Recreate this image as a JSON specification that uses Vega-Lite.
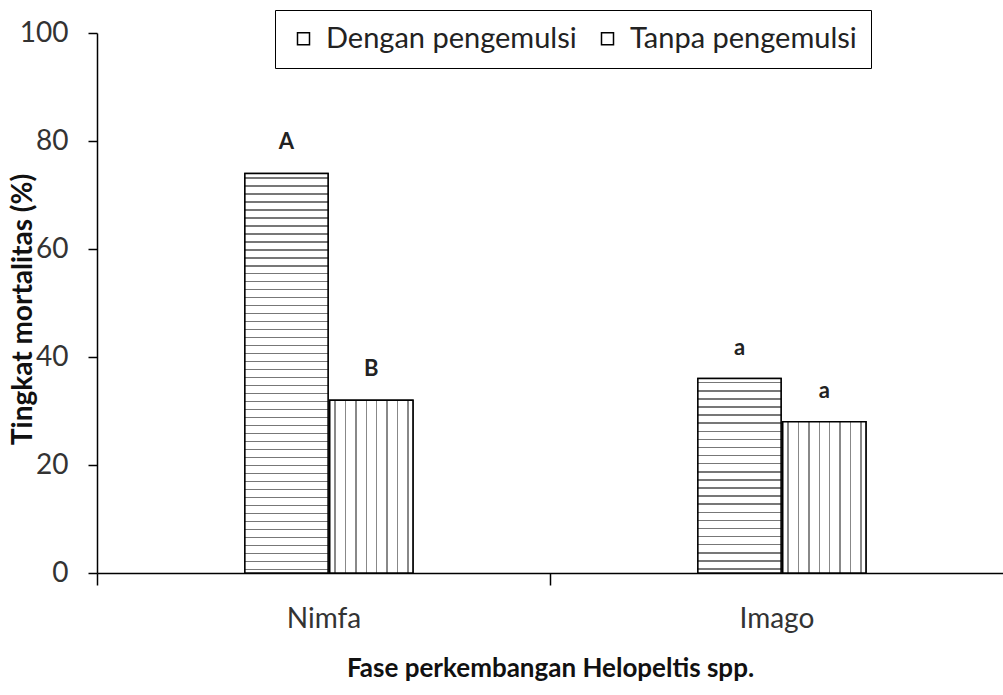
{
  "$schema": "https://vega.github.io/schema/vega-lite/v6.json",
  "width": 906,
  "height": 540,
  "autosize": {"type": "none"},
  "padding": {"left": 97, "top": 33, "right": 0, "bottom": 122},
  "background": "white",
  "data": {
    "values": [
      {"fase": "Nimfa", "perlakuan": "Dengan pengemulsi", "nilai": 74, "huruf": "A"},
      {"fase": "Nimfa", "perlakuan": "Tanpa pengemulsi", "nilai": 32, "huruf": "B"},
      {"fase": "Imago", "perlakuan": "Dengan pengemulsi", "nilai": 36, "huruf": "a"},
      {"fase": "Imago", "perlakuan": "Tanpa pengemulsi", "nilai": 28, "huruf": "a"}
    ]
  },
  "encoding": {
    "x": {
      "field": "fase", "type": "nominal", "sort": ["Nimfa", "Imago"],
      "scale": {"paddingInner": 0.629, "paddingOuter": 0.3145, "align": 0.519},
      "axis": {
        "title": "Fase perkembangan Helopeltis spp.",
        "labelAngle": 0, "tickOffset": -232, "labelOffset": 226.5, "tickSize": 12, "tickColor": "black", "tickWidth": 1.5,
        "domainColor": "black", "domainWidth": 1.5,
        "labelFont": "Lato", "labelFontSize": 28, "labelColor": "#333", "labelPadding": 20,
        "titleFont": "Lato", "titleFontSize": 26, "titleFontWeight": "bold", "titleColor": "#111", "titlePadding": 22
      }
    },
    "xOffset": {
      "field": "perlakuan", "type": "nominal",
      "scale": {"paddingInner": 0.02, "paddingOuter": 0}
    },
    "y": {
      "field": "nilai", "type": "quantitative",
      "scale": {"domain": [0, 100]},
      "axis": {
        "title": "Tingkat mortalitas (%)", "values": [0, 20, 40, 60, 80, 100], "grid": false,
        "tickSize": 9, "tickColor": "black", "tickWidth": 1.5, "domainColor": "black", "domainWidth": 1.5,
        "labelFont": "Lato", "labelFontSize": 28, "labelColor": "#333", "labelPadding": 20,
        "titleFont": "Lato", "titleFontSize": 28, "titleFontWeight": "bold", "titleColor": "#111",
        "titleX": -74, "titleY": 276, "titleBaseline": "middle", "titleAlign": "center", "titleAngle": -90
      }
    }
  },
  "layer": [
    {
      "mark": {"type": "bar", "stroke": "black", "strokeWidth": 1.5},
      "encoding": {
        "color": {
          "field": "perlakuan", "type": "nominal",
          "scale": {"range": ["white", "white"]},
          "legend": {
            "title": null, "orient": "none", "legendX": 178, "legendY": -23, "direction": "horizontal",
            "strokeColor": "black", "padding": 14, "fillColor": "white", "labelLimit": 0,
            "symbolType": "square", "symbolSize": 144, "symbolStrokeColor": "black", "symbolStrokeWidth": 1.5,
            "labelFont": "Lato", "labelFontSize": 29, "labelColor": "#222", "labelOffset": 8, "columnPadding": 16
          }
        }
      }
    },
    {
      "transform": [{"filter": "datum.fase === 'Nimfa' && datum.perlakuan === 'Dengan pengemulsi'"}],
      "mark": {
        "type": "bar", "stroke": "black", "strokeWidth": 1.5,
        "fill": {
          "gradient": "linear", "x1": 0, "y1": 0, "x2": 0, "y2": 1,
          "stops": [
            {"offset":0.009,"color":"#fff"},{"offset":0.009,"color":"#777"},{"offset":0.013,"color":"#777"},{"offset":0.013,"color":"#fff"},
            {"offset":0.029,"color":"#fff"},{"offset":0.029,"color":"#777"},{"offset":0.033,"color":"#777"},{"offset":0.033,"color":"#fff"},
            {"offset":0.049,"color":"#fff"},{"offset":0.049,"color":"#777"},{"offset":0.053,"color":"#777"},{"offset":0.053,"color":"#fff"},
            {"offset":0.069,"color":"#fff"},{"offset":0.069,"color":"#777"},{"offset":0.073,"color":"#777"},{"offset":0.073,"color":"#fff"},
            {"offset":0.089,"color":"#fff"},{"offset":0.089,"color":"#777"},{"offset":0.093,"color":"#777"},{"offset":0.093,"color":"#fff"},
            {"offset":0.109,"color":"#fff"},{"offset":0.109,"color":"#777"},{"offset":0.113,"color":"#777"},{"offset":0.113,"color":"#fff"},
            {"offset":0.129,"color":"#fff"},{"offset":0.129,"color":"#777"},{"offset":0.133,"color":"#777"},{"offset":0.133,"color":"#fff"},
            {"offset":0.149,"color":"#fff"},{"offset":0.149,"color":"#777"},{"offset":0.153,"color":"#777"},{"offset":0.153,"color":"#fff"},
            {"offset":0.169,"color":"#fff"},{"offset":0.169,"color":"#777"},{"offset":0.173,"color":"#777"},{"offset":0.173,"color":"#fff"},
            {"offset":0.189,"color":"#fff"},{"offset":0.189,"color":"#777"},{"offset":0.193,"color":"#777"},{"offset":0.193,"color":"#fff"},
            {"offset":0.209,"color":"#fff"},{"offset":0.209,"color":"#777"},{"offset":0.213,"color":"#777"},{"offset":0.213,"color":"#fff"},
            {"offset":0.229,"color":"#fff"},{"offset":0.229,"color":"#777"},{"offset":0.233,"color":"#777"},{"offset":0.233,"color":"#fff"},
            {"offset":0.249,"color":"#fff"},{"offset":0.249,"color":"#777"},{"offset":0.253,"color":"#777"},{"offset":0.253,"color":"#fff"},
            {"offset":0.269,"color":"#fff"},{"offset":0.269,"color":"#777"},{"offset":0.273,"color":"#777"},{"offset":0.273,"color":"#fff"},
            {"offset":0.289,"color":"#fff"},{"offset":0.289,"color":"#777"},{"offset":0.293,"color":"#777"},{"offset":0.293,"color":"#fff"},
            {"offset":0.309,"color":"#fff"},{"offset":0.309,"color":"#777"},{"offset":0.313,"color":"#777"},{"offset":0.313,"color":"#fff"},
            {"offset":0.329,"color":"#fff"},{"offset":0.329,"color":"#777"},{"offset":0.333,"color":"#777"},{"offset":0.333,"color":"#fff"},
            {"offset":0.349,"color":"#fff"},{"offset":0.349,"color":"#777"},{"offset":0.353,"color":"#777"},{"offset":0.353,"color":"#fff"},
            {"offset":0.369,"color":"#fff"},{"offset":0.369,"color":"#777"},{"offset":0.373,"color":"#777"},{"offset":0.373,"color":"#fff"},
            {"offset":0.389,"color":"#fff"},{"offset":0.389,"color":"#777"},{"offset":0.393,"color":"#777"},{"offset":0.393,"color":"#fff"},
            {"offset":0.409,"color":"#fff"},{"offset":0.409,"color":"#777"},{"offset":0.413,"color":"#777"},{"offset":0.413,"color":"#fff"},
            {"offset":0.429,"color":"#fff"},{"offset":0.429,"color":"#777"},{"offset":0.433,"color":"#777"},{"offset":0.433,"color":"#fff"},
            {"offset":0.449,"color":"#fff"},{"offset":0.449,"color":"#777"},{"offset":0.453,"color":"#777"},{"offset":0.453,"color":"#fff"},
            {"offset":0.469,"color":"#fff"},{"offset":0.469,"color":"#777"},{"offset":0.473,"color":"#777"},{"offset":0.473,"color":"#fff"},
            {"offset":0.489,"color":"#fff"},{"offset":0.489,"color":"#777"},{"offset":0.493,"color":"#777"},{"offset":0.493,"color":"#fff"},
            {"offset":0.509,"color":"#fff"},{"offset":0.509,"color":"#777"},{"offset":0.513,"color":"#777"},{"offset":0.513,"color":"#fff"},
            {"offset":0.529,"color":"#fff"},{"offset":0.529,"color":"#777"},{"offset":0.533,"color":"#777"},{"offset":0.533,"color":"#fff"},
            {"offset":0.549,"color":"#fff"},{"offset":0.549,"color":"#777"},{"offset":0.553,"color":"#777"},{"offset":0.553,"color":"#fff"},
            {"offset":0.569,"color":"#fff"},{"offset":0.569,"color":"#777"},{"offset":0.573,"color":"#777"},{"offset":0.573,"color":"#fff"},
            {"offset":0.589,"color":"#fff"},{"offset":0.589,"color":"#777"},{"offset":0.593,"color":"#777"},{"offset":0.593,"color":"#fff"},
            {"offset":0.609,"color":"#fff"},{"offset":0.609,"color":"#777"},{"offset":0.613,"color":"#777"},{"offset":0.613,"color":"#fff"},
            {"offset":0.629,"color":"#fff"},{"offset":0.629,"color":"#777"},{"offset":0.633,"color":"#777"},{"offset":0.633,"color":"#fff"},
            {"offset":0.649,"color":"#fff"},{"offset":0.649,"color":"#777"},{"offset":0.653,"color":"#777"},{"offset":0.653,"color":"#fff"},
            {"offset":0.669,"color":"#fff"},{"offset":0.669,"color":"#777"},{"offset":0.673,"color":"#777"},{"offset":0.673,"color":"#fff"},
            {"offset":0.689,"color":"#fff"},{"offset":0.689,"color":"#777"},{"offset":0.693,"color":"#777"},{"offset":0.693,"color":"#fff"},
            {"offset":0.709,"color":"#fff"},{"offset":0.709,"color":"#777"},{"offset":0.713,"color":"#777"},{"offset":0.713,"color":"#fff"},
            {"offset":0.729,"color":"#fff"},{"offset":0.729,"color":"#777"},{"offset":0.733,"color":"#777"},{"offset":0.733,"color":"#fff"},
            {"offset":0.749,"color":"#fff"},{"offset":0.749,"color":"#777"},{"offset":0.753,"color":"#777"},{"offset":0.753,"color":"#fff"},
            {"offset":0.769,"color":"#fff"},{"offset":0.769,"color":"#777"},{"offset":0.773,"color":"#777"},{"offset":0.773,"color":"#fff"},
            {"offset":0.789,"color":"#fff"},{"offset":0.789,"color":"#777"},{"offset":0.793,"color":"#777"},{"offset":0.793,"color":"#fff"},
            {"offset":0.809,"color":"#fff"},{"offset":0.809,"color":"#777"},{"offset":0.813,"color":"#777"},{"offset":0.813,"color":"#fff"},
            {"offset":0.829,"color":"#fff"},{"offset":0.829,"color":"#777"},{"offset":0.833,"color":"#777"},{"offset":0.833,"color":"#fff"},
            {"offset":0.849,"color":"#fff"},{"offset":0.849,"color":"#777"},{"offset":0.853,"color":"#777"},{"offset":0.853,"color":"#fff"},
            {"offset":0.869,"color":"#fff"},{"offset":0.869,"color":"#777"},{"offset":0.873,"color":"#777"},{"offset":0.873,"color":"#fff"},
            {"offset":0.889,"color":"#fff"},{"offset":0.889,"color":"#777"},{"offset":0.893,"color":"#777"},{"offset":0.893,"color":"#fff"},
            {"offset":0.909,"color":"#fff"},{"offset":0.909,"color":"#777"},{"offset":0.913,"color":"#777"},{"offset":0.913,"color":"#fff"},
            {"offset":0.929,"color":"#fff"},{"offset":0.929,"color":"#777"},{"offset":0.933,"color":"#777"},{"offset":0.933,"color":"#fff"},
            {"offset":0.949,"color":"#fff"},{"offset":0.949,"color":"#777"},{"offset":0.953,"color":"#777"},{"offset":0.953,"color":"#fff"},
            {"offset":0.969,"color":"#fff"},{"offset":0.969,"color":"#777"},{"offset":0.973,"color":"#777"},{"offset":0.973,"color":"#fff"},
            {"offset":0.989,"color":"#fff"},{"offset":0.989,"color":"#777"},{"offset":0.993,"color":"#777"},{"offset":0.993,"color":"#fff"}
          ]
        }
      }
    },
    {
      "transform": [{"filter": "datum.fase === 'Imago' && datum.perlakuan === 'Dengan pengemulsi'"}],
      "mark": {
        "type": "bar", "stroke": "black", "strokeWidth": 1.5,
        "fill": {
          "gradient": "linear", "x1": 0, "y1": 0, "x2": 0, "y2": 1,
          "stops": [
            {"offset":0.017,"color":"#fff"},{"offset":0.017,"color":"#777"},{"offset":0.025,"color":"#777"},{"offset":0.025,"color":"#fff"},
            {"offset":0.0587,"color":"#fff"},{"offset":0.0587,"color":"#777"},{"offset":0.0667,"color":"#777"},{"offset":0.0667,"color":"#fff"},
            {"offset":0.1003,"color":"#fff"},{"offset":0.1003,"color":"#777"},{"offset":0.1083,"color":"#777"},{"offset":0.1083,"color":"#fff"},
            {"offset":0.142,"color":"#fff"},{"offset":0.142,"color":"#777"},{"offset":0.15,"color":"#777"},{"offset":0.15,"color":"#fff"},
            {"offset":0.1837,"color":"#fff"},{"offset":0.1837,"color":"#777"},{"offset":0.1917,"color":"#777"},{"offset":0.1917,"color":"#fff"},
            {"offset":0.2253,"color":"#fff"},{"offset":0.2253,"color":"#777"},{"offset":0.2333,"color":"#777"},{"offset":0.2333,"color":"#fff"},
            {"offset":0.267,"color":"#fff"},{"offset":0.267,"color":"#777"},{"offset":0.275,"color":"#777"},{"offset":0.275,"color":"#fff"},
            {"offset":0.3087,"color":"#fff"},{"offset":0.3087,"color":"#777"},{"offset":0.3167,"color":"#777"},{"offset":0.3167,"color":"#fff"},
            {"offset":0.3503,"color":"#fff"},{"offset":0.3503,"color":"#777"},{"offset":0.3583,"color":"#777"},{"offset":0.3583,"color":"#fff"},
            {"offset":0.392,"color":"#fff"},{"offset":0.392,"color":"#777"},{"offset":0.4,"color":"#777"},{"offset":0.4,"color":"#fff"},
            {"offset":0.4337,"color":"#fff"},{"offset":0.4337,"color":"#777"},{"offset":0.4417,"color":"#777"},{"offset":0.4417,"color":"#fff"},
            {"offset":0.4753,"color":"#fff"},{"offset":0.4753,"color":"#777"},{"offset":0.4833,"color":"#777"},{"offset":0.4833,"color":"#fff"},
            {"offset":0.517,"color":"#fff"},{"offset":0.517,"color":"#777"},{"offset":0.525,"color":"#777"},{"offset":0.525,"color":"#fff"},
            {"offset":0.5587,"color":"#fff"},{"offset":0.5587,"color":"#777"},{"offset":0.5667,"color":"#777"},{"offset":0.5667,"color":"#fff"},
            {"offset":0.6003,"color":"#fff"},{"offset":0.6003,"color":"#777"},{"offset":0.6083,"color":"#777"},{"offset":0.6083,"color":"#fff"},
            {"offset":0.642,"color":"#fff"},{"offset":0.642,"color":"#777"},{"offset":0.65,"color":"#777"},{"offset":0.65,"color":"#fff"},
            {"offset":0.6837,"color":"#fff"},{"offset":0.6837,"color":"#777"},{"offset":0.6917,"color":"#777"},{"offset":0.6917,"color":"#fff"},
            {"offset":0.7253,"color":"#fff"},{"offset":0.7253,"color":"#777"},{"offset":0.7333,"color":"#777"},{"offset":0.7333,"color":"#fff"},
            {"offset":0.767,"color":"#fff"},{"offset":0.767,"color":"#777"},{"offset":0.775,"color":"#777"},{"offset":0.775,"color":"#fff"},
            {"offset":0.8087,"color":"#fff"},{"offset":0.8087,"color":"#777"},{"offset":0.8167,"color":"#777"},{"offset":0.8167,"color":"#fff"},
            {"offset":0.8503,"color":"#fff"},{"offset":0.8503,"color":"#777"},{"offset":0.8583,"color":"#777"},{"offset":0.8583,"color":"#fff"},
            {"offset":0.892,"color":"#fff"},{"offset":0.892,"color":"#777"},{"offset":0.9,"color":"#777"},{"offset":0.9,"color":"#fff"},
            {"offset":0.9337,"color":"#fff"},{"offset":0.9337,"color":"#777"},{"offset":0.9417,"color":"#777"},{"offset":0.9417,"color":"#fff"},
            {"offset":0.9753,"color":"#fff"},{"offset":0.9753,"color":"#777"},{"offset":0.9833,"color":"#777"},{"offset":0.9833,"color":"#fff"}
          ]
        }
      }
    },
    {
      "transform": [{"filter": "datum.perlakuan === 'Tanpa pengemulsi'"}],
      "mark": {
        "type": "bar", "stroke": "black", "strokeWidth": 1.5,
        "fill": {
          "gradient": "linear", "x1": 0, "y1": 0, "x2": 1, "y2": 0,
          "stops": [
            {"offset":0.055,"color":"#fff"},{"offset":0.055,"color":"#888"},{"offset":0.073,"color":"#888"},{"offset":0.073,"color":"#fff"},
            {"offset":0.18,"color":"#fff"},{"offset":0.18,"color":"#888"},{"offset":0.198,"color":"#888"},{"offset":0.198,"color":"#fff"},
            {"offset":0.305,"color":"#fff"},{"offset":0.305,"color":"#888"},{"offset":0.323,"color":"#888"},{"offset":0.323,"color":"#fff"},
            {"offset":0.43,"color":"#fff"},{"offset":0.43,"color":"#888"},{"offset":0.448,"color":"#888"},{"offset":0.448,"color":"#fff"},
            {"offset":0.555,"color":"#fff"},{"offset":0.555,"color":"#888"},{"offset":0.573,"color":"#888"},{"offset":0.573,"color":"#fff"},
            {"offset":0.68,"color":"#fff"},{"offset":0.68,"color":"#888"},{"offset":0.698,"color":"#888"},{"offset":0.698,"color":"#fff"},
            {"offset":0.805,"color":"#fff"},{"offset":0.805,"color":"#888"},{"offset":0.823,"color":"#888"},{"offset":0.823,"color":"#fff"},
            {"offset":0.93,"color":"#fff"},{"offset":0.93,"color":"#888"},{"offset":0.948,"color":"#888"},{"offset":0.948,"color":"#fff"}
          ]
        }
      }
    },
    {
      "mark": {"type": "text", "font": "Lato", "fontSize": 22, "fontWeight": "bold", "color": "#222", "baseline": "middle", "dy": -31},
      "encoding": {"text": {"field": "huruf"}}
    }
  ],
  "config": {"view": {"stroke": null}}
}
